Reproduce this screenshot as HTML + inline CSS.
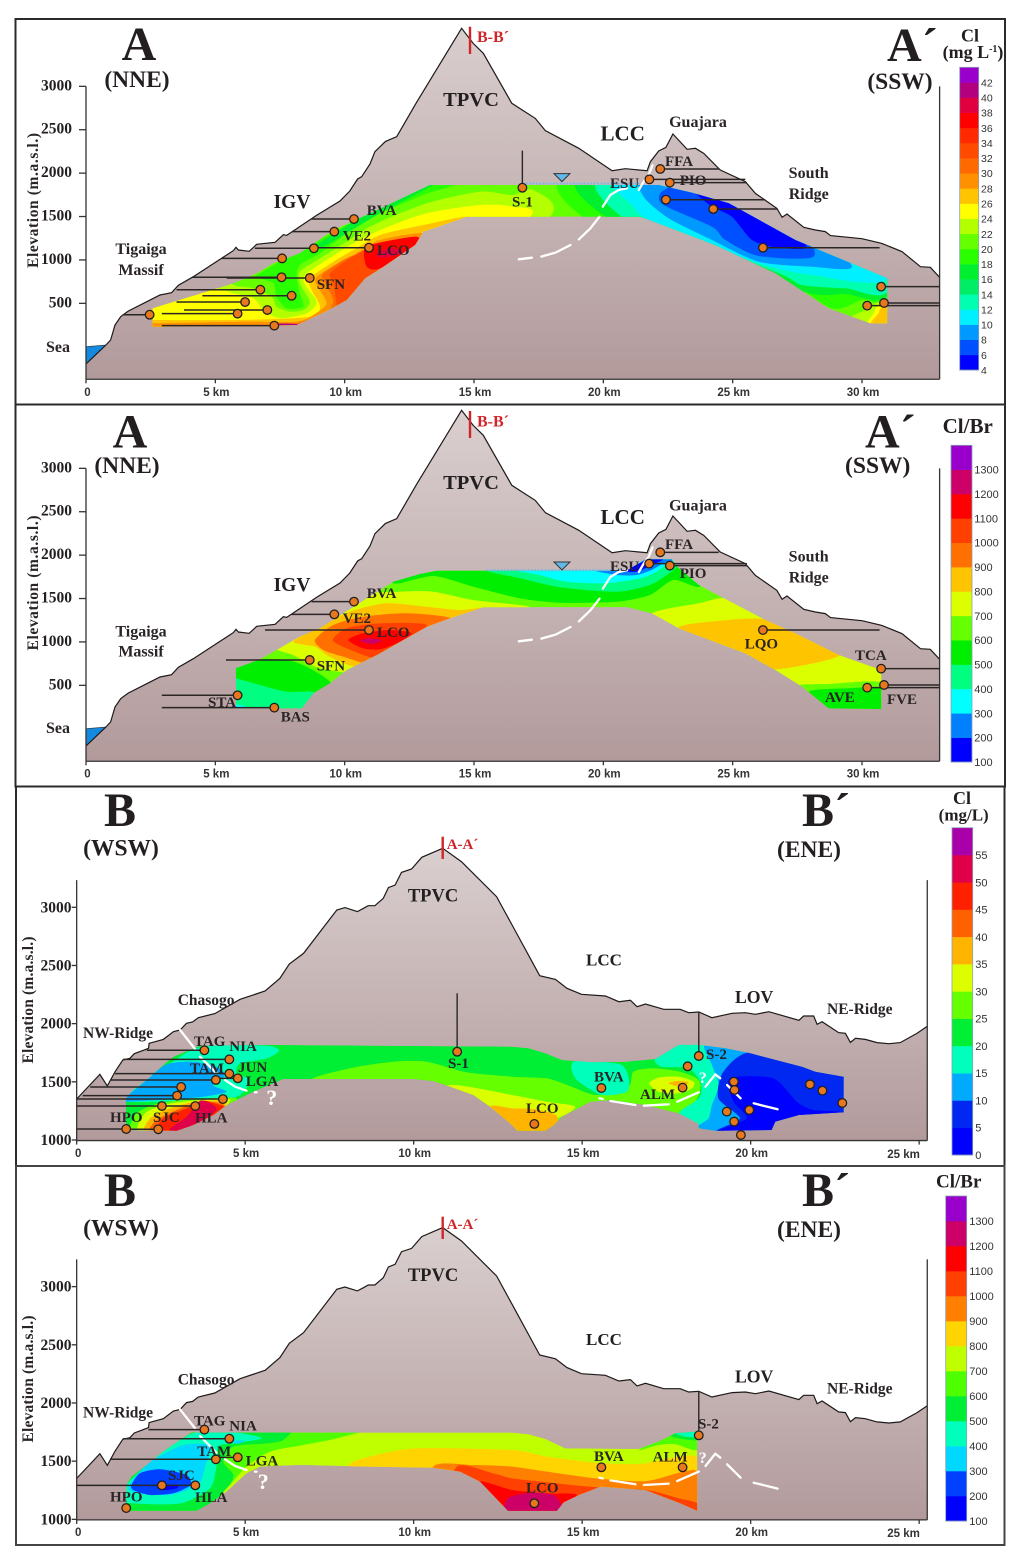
<!DOCTYPE html>
<html lang="en">
<head>
<meta charset="utf-8">
<title>Hydrogeochemical cross-sections A-A′ and B-B′</title>
<style>
html,body{margin:0;padding:0;background:#fff;width:1024px;height:1557px;overflow:hidden}
svg{display:block}
text{font-family:"Liberation Serif",serif;font-weight:700;fill:#231f20}
.big{font-size:48px}
.dir{font-size:23.5px}
.st{font-size:15px;fill:#2a2426}
.nm{font-size:16px;fill:#2a2426}
.nb{font-size:15.5px;fill:#2a2426}
.red{fill:#d0262a;font-size:16px}
.wq{fill:#fff;font-size:22px}
.leg{font-size:18px}
.yt{font-size:15.5px;fill:#2a2426}
</style>
</head>
<body>
<svg id="chart" xmlns="http://www.w3.org/2000/svg" width="1024" height="1557" viewBox="0 0 1024 1557">
  <defs>
    <linearGradient id="rockA1" gradientUnits="userSpaceOnUse" x1="0" y1="20" x2="0" y2="379"><stop offset="0" stop-color="#dacfcf"/><stop offset="1" stop-color="#b29a9b"/></linearGradient>
    <linearGradient id="rockA2" gradientUnits="userSpaceOnUse" x1="0" y1="411" x2="0" y2="761"><stop offset="0" stop-color="#dacfcf"/><stop offset="1" stop-color="#b29a9b"/></linearGradient>
    <linearGradient id="rockB1" gradientUnits="userSpaceOnUse" x1="0" y1="847" x2="0" y2="1141"><stop offset="0" stop-color="#dacfcf"/><stop offset="1" stop-color="#b29a9b"/></linearGradient>
    <linearGradient id="rockB2" gradientUnits="userSpaceOnUse" x1="0" y1="1227" x2="0" y2="1520"><stop offset="0" stop-color="#dacfcf"/><stop offset="1" stop-color="#b29a9b"/></linearGradient>
  </defs>

  <g>
    <rect x="15.5" y="19" width="989.5" height="385.5" fill="#fff" stroke="#2b2b2b" stroke-width="2"/>
    <g id="marks-a1"></g>
    <text class="big" x="139" y="60" text-anchor="middle">A</text>
    <text class="dir" x="137" y="87" text-anchor="middle">(NNE)</text>
    <text class="big" x="887" y="61" >A´</text>
    <text class="dir" x="900" y="89" text-anchor="middle">(SSW)</text>
    <text class="red" x="477" y="42">B-B´</text>
    <text class="yt" transform="translate(38 200.5) rotate(-90)" text-anchor="middle" textLength="135">Elevation (m.a.s.l.)</text>
    <text x="471" y="106" text-anchor="middle" font-size="20.5">TPVC</text>
    <text x="622.7" y="140.5" text-anchor="middle" font-size="21">LCC</text>
    <text class="nm" x="698" y="127" text-anchor="middle">Guajara</text>
    <text class="nm" x="808.7" y="178" text-anchor="middle">South</text>
    <text class="nm" x="808.7" y="199" text-anchor="middle">Ridge</text>
    <text x="292" y="208" text-anchor="middle" font-size="19.5">IGV</text>
    <text class="nm" x="141" y="254" text-anchor="middle">Tigaiga</text>
    <text class="nm" x="141" y="275" text-anchor="middle">Massif</text>
    <text class="nm" x="58" y="352" text-anchor="middle">Sea</text>
    <text class="st" x="366.7" y="215">BVA</text>
    <text class="st" x="342.7" y="240.7">VE2</text>
    <text class="st" x="377" y="255">LCO</text>
    <text class="st" x="316.7" y="289">SFN</text>
    <text class="st" x="512" y="206.7">S-1</text>
    <text class="st" x="665" y="166">FFA</text>
    <text class="st" x="610" y="188">ESU</text>
    <text class="st" x="679.7" y="185">PIO</text>
    <text class="leg" x="970" y="41.5" text-anchor="middle">Cl</text>
    <text class="leg" x="973" y="58" text-anchor="middle">(mg L<tspan font-size="10" dy="-6">-1</tspan><tspan dy="6">)</tspan></text>
  </g>

  <g>
    <rect x="15.5" y="404.5" width="989.5" height="382" fill="#fff" stroke="#2b2b2b" stroke-width="2"/>
    <g id="marks-a2"></g>
    <text class="big" x="130" y="447.5" text-anchor="middle">A</text>
    <text class="dir" x="127" y="473" text-anchor="middle">(NNE)</text>
    <text class="big" x="865" y="447.5">A´</text>
    <text class="dir" x="877.7" y="473" text-anchor="middle">(SSW)</text>
    <text class="red" x="477" y="426.7">B-B´</text>
    <text class="yt" transform="translate(38 583) rotate(-90)" text-anchor="middle" textLength="135">Elevation (m.a.s.l.)</text>
    <text x="471" y="489" text-anchor="middle" font-size="20.5">TPVC</text>
    <text x="622.7" y="524" text-anchor="middle" font-size="21">LCC</text>
    <text class="nm" x="698" y="510.7" text-anchor="middle">Guajara</text>
    <text class="nm" x="808.7" y="561.7" text-anchor="middle">South</text>
    <text class="nm" x="808.7" y="582.7" text-anchor="middle">Ridge</text>
    <text x="292" y="591" text-anchor="middle" font-size="19.5">IGV</text>
    <text class="nm" x="141" y="636.7" text-anchor="middle">Tigaiga</text>
    <text class="nm" x="141" y="656.7" text-anchor="middle">Massif</text>
    <text class="nm" x="58" y="733" text-anchor="middle">Sea</text>
    <text class="st" x="366.7" y="598">BVA</text>
    <text class="st" x="342.7" y="623">VE2</text>
    <text class="st" x="377" y="637">LCO</text>
    <text class="st" x="316.7" y="670.7">SFN</text>
    <text class="st" x="208" y="707">STA</text>
    <text class="st" x="280.7" y="721.7">BAS</text>
    <text class="st" x="665" y="549">FFA</text>
    <text class="st" x="610" y="571">ESU</text>
    <text class="st" x="679.7" y="578">PIO</text>
    <text class="st" x="744.7" y="648.3">LQO</text>
    <text class="st" x="855" y="660">TCA</text>
    <text class="st" x="825" y="702">AVE</text>
    <text class="st" x="887" y="704">FVE</text>
    <text x="967.7" y="433" text-anchor="middle" font-size="21">Cl/Br</text>
  </g>

  <g>
    <rect x="16" y="786.5" width="988.5" height="379.5" fill="#fff" stroke="#2b2b2b" stroke-width="2"/>
    <g id="marks-b1"></g>
    <text class="big" x="120" y="826" text-anchor="middle">B</text>
    <text class="dir" x="121" y="855.5" text-anchor="middle">(WSW)</text>
    <text class="big" x="802" y="826">B´</text>
    <text class="dir" x="809" y="857" text-anchor="middle">(ENE)</text>
    <text class="red" x="446.7" y="849" style="font-size:15px">A-A´</text>
    <text class="yt" transform="translate(33 1000) rotate(-90)" text-anchor="middle" textLength="127">Elevation (m.a.s.l.)</text>
    <text x="433" y="901.7" text-anchor="middle" font-size="18.5">TPVC</text>
    <text x="604" y="965.7" text-anchor="middle" font-size="17">LCC</text>
    <text x="735" y="1003" font-size="17.7">LOV</text>
    <text class="nb" x="827" y="1014">NE-Ridge</text>
    <text class="nb" x="177.7" y="1005">Chasogo</text>
    <text class="nb" x="83" y="1038">NW-Ridge</text>
    <text class="st" x="194" y="1046">TAG</text>
    <text class="st" x="229.3" y="1051">NIA</text>
    <text class="st" x="190" y="1073">TAM</text>
    <text class="st" x="238" y="1072">JUN</text>
    <text class="st" x="245.7" y="1086">LGA</text>
    <text class="wq" x="271.7" y="1105" text-anchor="middle">?</text>
    <text class="st" x="110" y="1122">HPO</text>
    <text class="st" x="153" y="1122">SJC</text>
    <text class="st" x="195" y="1122.7">HLA</text>
    <text class="st" x="448" y="1068">S-1</text>
    <text class="st" x="526" y="1113">LCO</text>
    <text class="st" x="594" y="1081.7">BVA</text>
    <text class="st" x="640" y="1099">ALM</text>
    <text class="st" x="706" y="1059">S-2</text>
    <text class="wq" x="702.7" y="1083" text-anchor="middle" style="font-size:16px">?</text>
    <text class="leg" x="962" y="804" text-anchor="middle">Cl</text>
    <text class="leg" x="963.7" y="820.7" text-anchor="middle" style="font-size:17px">(mg/L)</text>
  </g>

  <g>
    <rect x="16" y="1166" width="988.5" height="379" fill="#fff" stroke="#444" stroke-width="2"/>
    <g id="marks-b2"></g>
    <text class="big" x="120" y="1206" text-anchor="middle">B</text>
    <text class="dir" x="121" y="1235.5" text-anchor="middle">(WSW)</text>
    <text class="big" x="802" y="1206">B´</text>
    <text class="dir" x="809" y="1237" text-anchor="middle">(ENE)</text>
    <text class="red" x="446.7" y="1229" style="font-size:15px">A-A´</text>
    <text class="yt" transform="translate(33 1379) rotate(-90)" text-anchor="middle" textLength="127">Elevation (m.a.s.l.)</text>
    <text x="433" y="1281" text-anchor="middle" font-size="18.5">TPVC</text>
    <text x="604" y="1345" text-anchor="middle" font-size="17">LCC</text>
    <text x="735" y="1382.7" font-size="17.7">LOV</text>
    <text class="nb" x="827" y="1393.7">NE-Ridge</text>
    <text class="nb" x="177.7" y="1384.3">Chasogo</text>
    <text class="nb" x="83" y="1417.7">NW-Ridge</text>
    <text class="st" x="194" y="1425.3">TAG</text>
    <text class="st" x="229.3" y="1430.3">NIA</text>
    <text class="st" x="197.3" y="1456">TAM</text>
    <text class="st" x="245.7" y="1465.3">LGA</text>
    <text class="wq" x="263.3" y="1489" text-anchor="middle">?</text>
    <text class="st" x="168" y="1480">SJC</text>
    <text class="st" x="110" y="1501.7">HPO</text>
    <text class="st" x="195" y="1502">HLA</text>
    <text class="st" x="526" y="1492.7">LCO</text>
    <text class="st" x="594" y="1461">BVA</text>
    <text class="st" x="652.7" y="1461.7">ALM</text>
    <text class="st" x="698" y="1428.3">S-2</text>
    <text class="wq" x="702.7" y="1463" text-anchor="middle" style="font-size:16px">?</text>
    <text x="958.7" y="1187.7" text-anchor="middle" font-size="19">Cl/Br</text>
  </g>
</svg>

<script>
// ---- Axis tick values ----
const elevTicksA = [500,1000,1500,2000,2500,3000];
const elevTicksB = [1000,1500,2000,2500,3000];
const kmTicksA = [0,5,10,15,20,25,30];
const kmTicksB = [0,5,10,15,20,25];

// ---- Legend tick labels ----
const legendTicksA1 = [42,40,38,36,34,32,30,28,26,24,22,20,18,16,14,12,10,8,6,4];
const legendTicksA2 = [1300,1200,1100,1000,900,800,700,600,500,400,300,200,100];
const legendTicksB1 = [55,50,45,40,35,30,25,20,15,10,5,0];
const legendTicksB2 = [1300,1200,1100,1000,900,800,700,600,500,400,300,200,100];

// ---- Ground surface profiles [km, m a.s.l.] ----
const terrainA = [[0,-199],[.77,20],[.95,78],[1.12,250],[1.34,346],[1.64,412],[2.35,519],[2.86,596],[3.31,623],[3.57,707],[4.15,807],[5.7,1107],[5.8,1145],[5.89,1114],[6.31,1099],[6.6,1180],[7.31,1203],[7.63,1291],[7.76,1283],[8.92,1514],[9.82,1679],[10.2,1794],[10.5,1932],[10.66,1959],[10.98,2105],[11.17,2247],[11.58,2366],[12.01,2420],[12.78,2816],[14.52,3668],[14.97,3495],[15.36,3380],[16.46,2804],[17.37,2631],[17.76,2489],[19.05,2286],[20.34,2028],[20.85,2051],[21.69,2028],[21.82,2132],[22.14,2255],[22.42,2297],[22.69,2451],[23.24,2274],[23.56,2286],[23.88,2228],[24.52,2036],[25.49,1902],[25.88,1767],[26.71,1594],[26.91,1491],[27.1,1529],[27.75,1376],[28.2,1345],[28.58,1326],[28.78,1280],[30,1245],[30.77,1191],[31.55,1095],[32.26,922],[32.64,915],[33,800]];
const terrainB = [[0,1352],[.69,1564],[.91,1464],[1.14,1587],[1.37,1688],[1.58,1702],[1.71,1742],[1.98,1771],[2.13,1788],[2.15,1831],[2.57,1865],[2.87,1931],[3.07,1945],[3.26,2003],[3.44,2014],[3.61,2051],[4.1,2086],[4.85,2209],[5.59,2281],[6.03,2390],[6.31,2513],[6.73,2604],[7.72,2977],[7.96,2997],[8.33,2963],[8.51,2991],[8.65,3014],[8.85,3014],[9.1,3077],[9.25,3169],[9.45,3192],[9.64,3300],[9.94,3329],[10.24,3430],[10.86,3507],[11.42,3392],[12.46,3091],[12.92,2848],[13.74,2412],[14.21,2380],[14.55,2304],[14.98,2252],[15.69,2238],[16.09,2189],[16.43,2201],[16.63,2146],[16.88,2169],[17.42,2123],[17.91,2123],[18.16,2094],[18.46,2100],[18.85,2051],[19.45,2089],[19.84,2094],[20.14,2080],[20.54,2103],[21.43,2029],[21.57,2066],[21.87,2066],[21.97,1994],[22.12,2017],[22.61,1923],[22.81,1917],[22.96,1839],[23.11,1874],[23.4,1865],[23.75,1837],[24.1,1828],[24.44,1837],[24.94,1917],[25.24,1977]];
const seaA = [[0,0],[.77,20],[0,-199]];

// ---- Interpreted fault segments [km, m a.s.l.] ----
const faultA = [
  [[16.73,1007],[17.24,1026]],
  [[17.6,1038],[18.15,1084],[18.73,1172]],
  [[19.05,1237],[19.5,1364],[19.85,1498]],
  [[19.98,1614],[20.27,1748],[20.59,1806],[20.92,1825]],
  [[21.37,1806],[21.56,1902],[21.75,1978],[21.9,2090]]
];
const faultB = [
  [[3.07,1945],[3.51,1782]],
  [[3.66,1716],[4.15,1573]],
  [[4.4,1516],[4.7,1458],[5.04,1424]],
  [[5.29,1410],[5.34,1410]],
  [[15.51,1358],[15.61,1352]],
  [[15.84,1335],[16.58,1301]],
  [[16.83,1295],[17.57,1307]],
  [[17.82,1329],[18.46,1410]],
  [[18.66,1458],[18.95,1564],[19.1,1530]],
  [[19.3,1473],[19.7,1358]],
  [[20.09,1315],[20.8,1264]]
];

// ---- Springs and galleries [km, m a.s.l., km where the gallery line ends] ----
const stationsA1 = [[2.46,369,1.42],[5.86,381,2.93],[6.15,515,3.5],[7.01,423,3.79],[7.28,243,2.93],[6.74,657,3.5],[7.95,588,4.5],[7.56,800,4.12],[8.65,792,5.44],[7.58,1018,5.24],[8.81,1134,6.53],[10.94,1141,8.81],[9.6,1326,7.95],[10.36,1471,8.72],[21.78,1928,25.49],[22.2,2048,24.46],[22.57,1890,25.55],[22.42,1694,26.26],[24.25,1587,26.71],[26.17,1141,30.68],[30.74,692,33],[30.85,504,33],[30.2,473,33]];
const stationsA2 = [[5.86,385,2.93],[7.28,243,2.93],[8.65,792,5.41],[10.94,1137,6.92],[9.6,1318,7.95],[10.36,1464,8.72],[21.77,1902,25.55],[22.2,2032,24.46],[22.57,1879,25.55],[26.17,1137,30.68],[30.74,692,33],[30.85,504,33],[30.2,473,33]];
const stationsB1 = [[3.79,1771,2.08],[4.53,1693,1.38],[4.53,1570,1.14],[4.78,1530,4.13],[4.13,1516,.99],[3.1,1456,.4],[2.98,1381,.18],[4.34,1352,0],[2.53,1292,0],[3.52,1292,2.53],[1.47,1095,0],[2.42,1092,1.47],[18.13,1633,null],[15.57,1447,null],[17.98,1450,null],[19.5,1501,null],[19.52,1430,null],[19.29,1244,null],[19.96,1258,null],[19.51,1158,null],[19.71,1043,null],[21.76,1478,null],[22.13,1424,null],[22.72,1318,null],[13.58,1138,null]];
const stationsB2 = [[3.79,1771,2.13],[4.53,1693,1.38],[4.13,1516,.99],[4.78,1533,4.13],[2.53,1292,0],[3.52,1292,2.53],[1.47,1097,null],[13.58,1138,null],[15.57,1447,null],[17.98,1447,null]];

// ---- Boreholes [km, m a.s.l. of sample, m a.s.l. of casing top] ----
const wellsA1 = [[16.87,1832,2259]];
const wellsA2 = [];
const wellsB1 = [[11.29,1759,2261],[18.46,1722,2094]];
const wellsB2 = [[18.46,1722,2100]];

// ---- Water table [km start, km end, m a.s.l., marker km, marker m a.s.l.] ----
const waterTableA1 = [17,21.5,1879,18.4,1902];
const waterTableA2 = [15.5,20.8,1825,18.4,1829];

// ---- Sampled aquifer extents [km, m a.s.l.] ----
const aquiferA1 = [[2.58,231],[2.58,442],[5.7,730],[6.6,846],[7.24,961],[8.27,1076],[9.56,1345],[10.85,1518],[13.3,1863],[21.43,1863],[22.14,1863],[23.43,1775],[24.85,1652],[27.42,1230],[30.97,788],[30.97,270],[30.32,270],[28.71,442],[26.65,846],[24.33,1172],[21.62,1479],[21.37,1498],[14.72,1498],[13.04,1326],[12.72,1172],[11.49,922],[10.79,788],[10.08,538],[9.24,404],[8.14,250]];
const aquiferA2 = [[5.8,696],[6.66,792],[7.37,907],[8.27,1061],[9.05,1157],[10.85,1500],[11.88,1694],[12.91,1783],[13.56,1821],[20.9,1821],[21.62,1951],[22.65,1951],[22.85,1867],[23.69,1656],[24.72,1495],[26.26,1253],[27.55,1080],[29.1,849],[30.74,677],[30.74,227],[28.71,235],[27.68,485],[26.65,677],[25.49,869],[22.91,1157],[21.88,1329],[20.92,1399],[15.36,1399],[14.07,1272],[13.17,1176],[11.24,849],[10.08,677],[9.43,523],[8.79,408],[8.34,235],[5.8,235]];
const aquiferB1 = [[1.46,1086],[1.46,1358],[1.68,1430],[2.08,1516],[2.57,1645],[2.87,1716],[3.66,1811],[5.64,1817],[12.92,1802],[13.41,1788],[13.91,1745],[14.4,1688],[15.29,1668],[16.28,1673],[17.17,1696],[17.87,1817],[18.46,1817],[19.25,1788],[19.99,1745],[21.52,1630],[21.92,1587],[22.76,1544],[22.76,1238],[21.43,1215],[20.73,1158],[20.62,1086],[18.95,1080],[18.46,1100],[18.44,1143],[17.87,1229],[16.88,1301],[15.89,1344],[15.24,1329],[14.4,1201],[14.16,1129],[13.91,1080],[13.07,1080],[12.92,1129],[12.27,1286],[11.77,1387],[11.08,1458],[10.58,1507],[9.99,1524],[6.13,1524],[5.84,1487],[5.24,1415],[4.45,1301],[4.06,1215],[3.46,1129],[2.97,1080]];
const aquiferB2 = [[1.46,1074],[1.48,1295],[1.63,1367],[2.08,1467],[2.57,1582],[3.07,1682],[3.41,1745],[12.92,1745],[13.41,1731],[13.91,1690],[14.5,1610],[16.68,1605],[17.27,1668],[17.77,1739],[18.41,1754],[18.41,1074],[17.91,1138],[16.88,1252],[15.54,1281],[14.9,1209],[14.45,1146],[14.25,1074],[12.8,1074],[11.97,1324],[11.38,1410],[10.58,1444],[8.6,1453],[6.63,1467],[5.44,1453],[5.04,1395],[4.45,1238],[3.96,1138],[3.56,1074]];

// ---- Isoline fields: [value in band, [[km, m a.s.l.], ...]] painted in order ----
const backgroundValueA1 = 21;
const contoursA1 = [
[19,[[6.6,826],[8.79,1191],[13.17,1882],[14.46,1882],[13.04,1748],[11.11,1498],[10.08,1306],[9.05,1076],[8.27,942],[8.14,807],[8.27,615],[8.4,462],[7.76,442],[7.37,577],[7.24,730],[6.73,788]]],
[17,[[8.92,1172],[11.11,1575],[13.17,1863],[13.43,1863],[11.37,1537],[9.3,1172]]],
[23,[[5.7,711],[6.47,673],[7.18,577],[7.37,462],[7.89,404],[8.4,423],[8.66,519],[8.27,730],[8.27,865],[9.05,1018],[10.08,1210],[11.11,1402],[13.17,1652],[15.23,1786],[16.47,1748],[17.29,1806],[17.81,1460],[10.85,193],[2.47,193],[2.47,500],[5.2,850]]],
[25,[[2.47,500],[4.66,680],[5.7,615],[6.47,558],[6.86,423],[7.5,327],[8.53,385],[8.92,519],[8.47,711],[8.47,826],[9.3,999],[10.34,1191],[11.37,1345],[13.17,1537],[15.23,1633],[16.47,1614],[17.04,1460],[10.85,193],[2.47,193]]],
[27,[[2.6,308],[5.95,308],[8.66,346],[9.05,462],[8.72,654],[8.66,788],[9.56,980],[10.34,1114],[11.37,1287],[13.04,1402],[14.78,1498],[14.5,1300],[10.85,193],[2.47,193],[2.47,308]]],
[29,[[2.6,270],[6.21,289],[8.14,289],[8.79,366],[9.3,500],[8.92,711],[8.92,807],[9.82,980],[10.46,1076],[11.37,1230],[13.04,1306],[12.9,1100],[10.85,193],[2.47,193],[2.47,270]]],
[31,[[6.99,239],[8.14,270],[9.3,404],[9.56,538],[9.18,769],[9.18,845],[10.08,1018],[10.6,1076],[11.49,1172],[12.78,1249],[12.6,1000],[10.85,193]]],
[33,[[9.69,462],[9.56,730],[9.43,845],[10.2,1018],[10.98,1134],[12.78,1249],[12.5,1000],[10.85,193],[9.5,300]]],
[37,[[10.85,922],[10.75,1114],[11.11,1184],[12.78,1268],[12.78,1153],[11.37,903]]],
[39,[[11.24,1076],[11.75,1134],[12.27,1095],[11.88,1045],[11.37,1030]]],
[41,[[7.24,262],[8.14,262],[8.27,212],[7.24,193]]],
[19,[[18.73,1959],[19.56,1422],[21.62,1422],[26.78,807],[28.84,442],[30,538],[31.03,596],[31.03,1959]]],
[17,[[19.37,1959],[20.27,1460],[21.88,1422],[27.55,654],[29.36,607],[31.03,615],[31.03,1959]]],
[13,[[20.14,1959],[20.85,1460],[21.88,1422],[26.78,846],[27.68,711],[29.36,673],[31.03,661],[31.03,1959]]],
[11,[[20.85,1959],[21.17,1614],[22.01,1422],[26,961],[28.07,826],[31.03,796],[31.03,1959]]],
[9,[[21.5,1959],[21.56,1729],[22.53,1479],[24.2,1230],[26,980],[28.07,922],[29.61,922],[28.07,1400],[24.2,2100]]],
[7,[[22.78,1882],[22.2,1767],[22.33,1633],[24.2,1383],[24.72,1230],[26,1045],[28.13,1038],[27.55,1400],[25.49,1800],[23.17,2000]]],
[5,[[23.49,1800],[24.2,1800],[24.97,1720],[25.75,1560],[27.49,1300],[27.81,1134],[26.65,1145],[25.75,1230],[24.97,1498],[24.2,1614]]],
[23,[[29.61,327],[30.13,423],[30.52,500],[31.03,538],[31.03,231]]],
[25,[[30.19,250],[30.45,385],[30.58,462],[31.03,500],[31.03,231]]],
[27,[[30.32,250],[30.64,385],[30.71,442],[31.03,469],[31.03,231]]]
];

const backgroundValueA2 = 650;
const contoursA2 = [
[550,[[11.88,1675],[13.43,1760],[14.97,1637],[16.78,1502],[18.32,1452],[20.52,1464],[21.8,1541],[22.71,1713],[23.74,1637],[23.74,1982],[11.88,1982]]],
[450,[[15.1,1900],[15.49,1817],[16.78,1733],[18.32,1630],[20.52,1579],[21.8,1656],[22.45,1771],[22.84,1867],[22.84,1982],[15.1,1982]]],
[350,[[16,1900],[16.58,1825],[17.55,1770],[18.58,1694],[20.13,1675],[21.42,1733],[22.06,1809],[22.45,1905],[22.45,1982],[16,1982]]],
[250,[[19.61,1829],[20.52,1771],[21.29,1771],[21.87,1829],[22.32,1905],[22.71,1951],[21.55,1951],[20.52,1867]]],
[150,[[20.64,1821],[21.29,1809],[21.87,1886],[22.32,1951],[21.8,1951],[21.16,1875]]],
[550,[[5.7,715],[6.6,800],[7.76,792],[8.53,715],[9.43,542],[9.56,331],[5.7,254]]],
[450,[[5.7,600],[5.8,581],[6.73,504],[7.76,427],[8.92,408],[9.05,101],[5.7,101]]],
[350,[[5.8,273],[5.95,273],[6.34,235],[5.8,235]]],
[750,[[7.31,926],[8.14,1042],[9.05,1214],[10.85,1541],[12.14,1579],[13.43,1579],[14.97,1483],[17.16,1399],[14.97,1291],[11.62,600],[10.33,677],[9.95,650],[8.92,708],[8,850]]],
[850,[[8.02,1003],[9.05,1176],[10.2,1349],[11.62,1445],[13.17,1406],[14.46,1368],[15.3,1387],[14.07,1214],[12.01,830],[10.46,723],[9.82,773],[9.3,850],[8.85,946]]],
[950,[[8.85,1022],[9.56,1195],[10.72,1291],[12.4,1330],[14.1,1272],[12.91,1118],[11.24,754],[9.95,830],[9.18,907]]],
[1050,[[9.54,1022],[10.08,1157],[11.37,1214],[13.17,1195],[12.14,946],[11.24,811],[10.08,926]]],
[1150,[[10.14,1022],[10.72,1099],[11.75,1138],[12.59,1099],[12.01,984],[11.37,915],[10.72,926]]],
[1250,[[10.59,1015],[10.98,1042],[11.43,1015],[11.04,976]]],
[750,[[21.88,1329],[23.69,1445],[24.85,1502],[26.39,1253],[29.36,830],[30.77,715],[30.77,216],[28.07,331],[22.91,1137]]],
[850,[[22.91,1157],[24.85,1253],[26.39,1260],[27.55,1099],[29.16,849],[26.65,684],[25.49,830]]],
[650,[[27.42,485],[28.71,515],[30.77,531],[30.77,216],[28.58,216]]],
[550,[[27.94,427],[29.36,465],[30.77,465],[30.77,216],[28.58,216]]]
];

const backgroundValueB1 = 22.5;
const contoursB1 = [
[17.5,[[2.77,1658],[3.36,1767],[3.96,1810],[5.64,1810],[6.01,1767],[5.64,1701],[4.85,1658],[4.75,1573],[5.14,1515],[4.85,1386],[4.15,1338],[3.17,1338],[1.38,1329],[1.38,1429]]],
[12.5,[[1.43,1358],[2.08,1515],[2.67,1650],[3.46,1673],[4.15,1630],[4.4,1558],[4.05,1472],[4.45,1415],[3.76,1372],[2.77,1349],[1.43,1329]]],
[27.5,[[1.63,1071],[1.78,1229],[2.37,1309],[3.17,1343],[4.75,1358],[4.05,1200],[3.07,1071]]],
[32.5,[[1.83,1071],[2.03,1229],[2.57,1300],[3.36,1335],[4.55,1349],[4.05,1200],[3.07,1071]]],
[37.5,[[2.03,1071],[2.18,1186],[2.67,1263],[3.46,1326],[4.45,1335],[4.05,1200],[3.07,1071]]],
[42.5,[[2.18,1071],[2.37,1171],[3.07,1272],[3.66,1326],[4.35,1309],[4.05,1194],[3.07,1071]]],
[47.5,[[2.39,1071],[2.57,1186],[3.26,1272],[3.76,1338],[4.25,1300],[4.45,1280],[4.05,1186],[3.07,1071]]],
[52.5,[[2.75,1091],[3.26,1200],[3.66,1338],[4.05,1300],[4.15,1257],[3.76,1171],[3.07,1085]]],
[27.5,[[7.02,1516],[8.11,1616],[9.4,1673],[10.39,1673],[11.57,1582],[12.92,1544],[13.95,1530],[14.69,1458],[15.43,1387],[16.37,1458],[16.52,1587],[17.11,1616],[17.9,1587],[18.46,1516],[18.46,1387],[17.9,1229],[15.53,1287],[13.55,900],[10.58,1186],[9.99,1501]]],
[32.5,[[11.08,1473],[12.92,1387],[13.95,1329],[14.79,1287],[14.24,1186],[12.56,1072],[10.58,1329]]],
[32.5,[[16.99,1487],[17.27,1536],[17.86,1544],[18.31,1501],[18.26,1444],[17.86,1401],[17.27,1415]]],
[37.5,[[17.57,1493],[17.86,1507],[18.16,1496],[17.96,1458],[17.67,1473]]],
[37.5,[[12.27,1286],[12.92,1272],[13.55,1266],[14.24,1209],[14.14,1043],[12.56,1043]]],
[17.5,[[14.7,1587],[14.75,1673],[15.49,1673],[16.18,1645],[16.38,1530],[16.33,1415],[15.59,1387],[14.9,1501]]],
[17.5,[[17.17,1696],[17.87,1817],[18.75,1817],[18.89,1645],[19.19,1473],[18.89,1301],[18.79,1186],[18.46,1129],[17.87,1229],[18.46,1358],[18.53,1487],[18.16,1616],[17.37,1630]]],
[12.5,[[18.66,1825],[20.08,1759],[19.19,1587],[19.04,1358],[19.68,1186],[18.95,1072],[18.44,1115],[18.75,1186],[18.85,1301],[19.05,1473],[18.85,1645]]],
[7.5,[[20.08,1759],[22.85,1616],[22.85,1215],[20.67,1057],[18.99,1072],[19.68,1186],[19.04,1358],[19.19,1587]]],
[2.5,[[19.39,1530],[20.67,1530],[21.37,1329],[21.86,1258],[22.85,1229],[22.85,1043],[18.99,1043],[19.88,1186],[19.49,1329]]]
];

const backgroundValueB2 = 750;
const contoursB2 = [
[650,[[3.36,1797],[8.56,1797],[7.71,1696],[6.73,1639],[5.74,1582],[5.04,1453],[4.45,1267],[3.56,1052],[1.38,1052],[1.38,1367]]],
[550,[[3.36,1797],[6.25,1797],[6.13,1682],[5.64,1653],[4.65,1625],[4.35,1496],[4.65,1381],[4.45,1267],[3.56,1052],[1.38,1052],[1.38,1367]]],
[450,[[2.47,1568],[3.17,1696],[3.56,1745],[4.75,1745],[5.49,1696],[4.65,1653],[4.2,1625],[4.15,1453],[3.96,1267],[3.17,1143],[2.27,1129],[1.38,1152],[1.38,1267]]],
[350,[[1.78,1381],[2.27,1510],[3.17,1639],[3.96,1631],[3.81,1453],[3.61,1295],[2.77,1209],[1.78,1224],[1.53,1267]]],
[350,[[4.65,1676],[5,1676],[4.75,1648]]],
[250,[[1.63,1295],[1.88,1396],[2.47,1430],[3.26,1381],[3.38,1295],[2.87,1224],[2.18,1209],[1.68,1252]]],
[150,[[2.52,1287],[2.97,1298],[2.99,1267],[2.57,1250]]],
[850,[[8.01,1440],[8.7,1539],[10.09,1610],[12.92,1596],[13.95,1539],[15.43,1487],[16.72,1476],[18.41,1533],[18.41,1037],[8.01,1037]]],
[950,[[10.58,1453],[11.77,1467],[12.92,1453],[13.95,1410],[15.43,1352],[16.91,1329],[18.41,1415],[18.41,1037],[10.58,1037]]],
[1050,[[11.28,1453],[12.36,1395],[12.92,1352],[13.95,1318],[15.19,1281],[16.91,1252],[17.86,1181],[18.41,1138],[18.41,1037],[11.28,1037]]],
[1150,[[11.87,1324],[12.92,1252],[13.95,1223],[14.84,1209],[14.14,1066],[11.87,1066]]],
[1250,[[12.81,1186],[13.55,1229],[14.2,1201],[14.34,1066],[12.81,1066]]],
[650,[[16.68,1596],[17.27,1639],[17.76,1645],[18.41,1596],[18.41,1782],[17.76,1768]]],
[550,[[17.57,1725],[17.86,1696],[18.41,1682],[18.41,1782],[17.76,1768]]],
[450,[[17.76,1745],[18.06,1711],[18.41,1711],[18.41,1768]]]
];

// ---- Colour ramps, lowest band first ----
const paletteA1 = ['#0000ff','#0050ff','#0099ff','#00f0ff','#00ffb0','#00ee66','#00f030','#2aff00','#66ff00','#b4ff00','#ffff00','#ffc400','#ff9000','#ff6a00','#ff4a00','#ff2a00','#ff0000','#e00040','#b3007f','#9900cc'];
const paletteA2 = ['#0000ff','#0080ff','#00ffff','#00ff80','#00ee00','#66ff00','#dcff00','#ffc400','#ff7000','#ff4000','#ff0000','#cc0066','#9900cc'];
const paletteB1 = ['#0000ff','#0028f0','#00aaff','#00ffbb','#00ee33','#66ff00','#dcff00','#ffb400','#ff6000','#ff2000','#e0004a','#aa00aa'];
const paletteB2 = ['#0000ff','#0040ff','#00d8ff','#00ffbb','#00ee33','#4dff00','#c0ff00','#ffd400','#ff8000','#ff4000','#ff0000','#cc0066','#9900cc'];

const SVGNS = 'http://www.w3.org/2000/svg';

function make(parent, tag, attrs, name) {
  const el = document.createElementNS(SVGNS, tag);
  for (const k in attrs) el.setAttribute(k, attrs[k]);
  
  
  parent.appendChild(el);
  return el;
}

function ptsAttr(points, xs, ys) {
  return points.map(p => xs(p[0]).toFixed(1) + ',' + ys(p[1]).toFixed(1)).join(' ');
}

function smoothPath(points, xs, ys) {
  const p = points.map(q => [xs(q[0]), ys(q[1])]);
  const n = p.length;
  let d = 'M' + p[0][0].toFixed(1) + ' ' + p[0][1].toFixed(1);
  for (let i = 0; i < n; i++) {
    const p0 = p[(i - 1 + n) % n], p1 = p[i], p2 = p[(i + 1) % n], p3 = p[(i + 2) % n];
    const c1x = p1[0] + (p2[0] - p0[0]) / 8, c1y = p1[1] + (p2[1] - p0[1]) / 8;
    const c2x = p2[0] - (p3[0] - p1[0]) / 8, c2y = p2[1] - (p3[1] - p1[1]) / 8;
    d += 'C' + c1x.toFixed(1) + ' ' + c1y.toFixed(1) + ' ' + c2x.toFixed(1) + ' ' + c2y.toFixed(1) + ' ' + p2[0].toFixed(1) + ' ' + p2[1].toFixed(1);
  }
  return d + 'Z';
}

function drawPanel(cfg) {
  const g = document.getElementById(cfg.gid);
  const xs = km => cfg.x0 + km * cfg.kx;
  const ys = m => cfg.yRef - (m - cfg.elevRef) * cfg.ky;
  const bandH = (cfg.legend.bottom - cfg.legend.top) / cfg.palette.length;
  const legendY = v => cfg.legend.bottom - (v - cfg.legend.min) / cfg.legend.step * bandH;
  const colorOf = v => cfg.palette[Math.max(0, Math.min(cfg.palette.length - 1, Math.floor((v - cfg.legend.min) / cfg.legend.step)))];

  // ground
  const ground = cfg.terrain.concat([[cfg.maxKm, cfg.baseElev], [0, cfg.baseElev]]);
  make(g, 'polygon', {points: ptsAttr(ground, xs, ys), fill: 'url(#' + cfg.rock + ')'}, 'ground-section');

  // aquifer + isoline bands
  const clipId = 'clip-' + cfg.gid;
  const defs = make(g, 'clipPath', {id: clipId}, 'aquifer-clip');
  make(defs, 'polygon', {points: ptsAttr(cfg.aquifer, xs, ys)}, 'aquifer-clip-shape');
  const field = make(g, 'g', {'clip-path': 'url(#' + clipId + ')'}, 'isoline-field');
  make(field, 'polygon', {points: ptsAttr(cfg.aquifer, xs, ys), fill: colorOf(cfg.backgroundValue)}, 'isoline-band-base');
  cfg.contours.forEach(c => {
    const band = make(field, 'path', {d: smoothPath(c[1], xs, ys), fill: colorOf(c[0])}, 'isoline-band');
    band.setAttribute('data-value', c[0]);
  });

  // sea and ground line
  if (cfg.sea) {
    make(g, 'polygon', {points: ptsAttr(cfg.sea, xs, ys), fill: '#1489e0', stroke: '#333', 'stroke-width': .7}, 'sea');
  }
  make(g, 'polyline', {points: ptsAttr(cfg.terrain, xs, ys), fill: 'none', stroke: '#1d1a1a', 'stroke-width': 1.2}, 'ground-surface-line');

  // axes
  const axisTop = ys(cfg.axisTopElev);
  const axisStyle = {stroke: '#333', 'stroke-width': 1.3, fill: 'none'};
  make(g, 'line', Object.assign({x1: xs(0), x2: xs(0), y1: axisTop, y2: ys(cfg.baseElev)}, axisStyle), 'y-axis-left');
  make(g, 'line', Object.assign({x1: xs(cfg.maxKm), x2: xs(cfg.maxKm), y1: axisTop, y2: ys(cfg.baseElev)}, axisStyle), 'y-axis-right');
  make(g, 'line', Object.assign({x1: xs(0), x2: xs(cfg.maxKm), y1: ys(cfg.baseElev), y2: ys(cfg.baseElev)}, axisStyle), 'x-axis');

  cfg.elevTicks.forEach(t => {
    make(g, 'line', Object.assign({x1: xs(0) - cfg.tickLen, x2: xs(0), y1: ys(t), y2: ys(t)}, axisStyle), 'y-tick');
    const lab = make(g, 'text', {x: cfg.yLabelX, y: ys(t) + cfg.yLabelDy, 'text-anchor': 'end', 'font-size': 15.5}, 'y-tick-label');
    lab.textContent = t;
  });
  cfg.kmTicks.forEach(t => {
    make(g, 'line', Object.assign({x1: xs(t), x2: xs(t), y1: ys(cfg.baseElev), y2: ys(cfg.baseElev) + 4}, axisStyle), 'x-tick');
    const last = t === 25 && cfg.kmTicks.length === 6;
    const lab = make(g, 'text', {x: xs(t) + (last ? 0.7 : (t === 0 ? 1.5 : 1)), y: cfg.kmLabelY + (last ? 1 : 0), 'text-anchor': last ? 'end' : 'middle', style: 'font-family:"Liberation Sans",sans-serif;font-weight:700;font-size:11.5px;fill:#333'}, 'x-tick-label');
    lab.textContent = t === 0 ? '0' : t + ' km';
  });

  // water table
  if (cfg.waterTable) {
    const w = cfg.waterTable;
    make(g, 'line', {x1: xs(w[0]), x2: xs(w[1]), y1: ys(w[2]), y2: ys(w[2]), stroke: '#63b8f5', 'stroke-width': 1.8, 'stroke-dasharray': '1.6 1.8'}, 'water-table-line');
    const tipX = xs(w[3]), tipY = ys(w[4]);
    make(g, 'polygon', {points: (tipX - 8) + ',' + (tipY - 8) + ' ' + (tipX + 8) + ',' + (tipY - 8) + ' ' + tipX + ',' + tipY, fill: '#63b8ea', stroke: '#333', 'stroke-width': 1}, 'water-table-marker');
  }

  // faults
  cfg.fault.forEach(seg => {
    make(g, 'polyline', {points: ptsAttr(seg, xs, ys), fill: 'none', stroke: '#fff', 'stroke-width': 2.3, 'stroke-linecap': 'round', 'stroke-linejoin': 'round'}, 'fault-segment');
  });

  // gallery lines
  cfg.stations.forEach(s => {
    if (s[2] !== null) {
      make(g, 'line', {x1: xs(s[2]), x2: xs(s[0]), y1: ys(s[1]), y2: ys(s[1]), stroke: '#2b2626', 'stroke-width': 1.5}, 'gallery-line');
    }
  });
  cfg.wells.forEach(s => {
    make(g, 'line', {x1: xs(s[0]), x2: xs(s[0]), y1: ys(s[2]), y2: ys(s[1]), stroke: '#2b2626', 'stroke-width': 1.4}, 'borehole-line');
  });
  cfg.stations.concat(cfg.wells).forEach(s => {
    make(g, 'circle', {cx: xs(s[0]), cy: ys(s[1]), r: 4.3, fill: '#e8781e', stroke: '#231f20', 'stroke-width': 1.3}, 'sample-point');
  });

  // crossing-section marker
  make(g, 'line', {x1: cfg.cross.x, x2: cfg.cross.x, y1: cfg.cross.y1, y2: cfg.cross.y2, stroke: '#d0262a', 'stroke-width': 2.4}, 'crossing-section-marker');

  // legend
  const lg = make(g, 'g', {}, 'colour-scale');
  cfg.palette.forEach((col, i) => {
    const v = cfg.legend.min + i * cfg.legend.step;
    make(lg, 'rect', {x: cfg.legend.x, width: cfg.legend.w, y: legendY(v + cfg.legend.step), height: bandH + .3, fill: col}, 'colour-scale-band');
  });
  make(lg, 'rect', {x: cfg.legend.x, width: cfg.legend.w, y: cfg.legend.top, height: cfg.legend.bottom - cfg.legend.top, fill: 'none', stroke: '#8aa0b4', 'stroke-width': .8}, 'colour-scale-outline');
  cfg.legend.ticks.forEach(t => {
    const lab = make(lg, 'text', {x: cfg.legend.labelX, y: legendY(t) + 4, style: 'font-family:"Liberation Sans",sans-serif;font-weight:400;font-size:' + cfg.legend.font + 'px;fill:#333'}, 'colour-scale-label');
    lab.textContent = t;
  });
}

drawPanel({gid:'marks-a1', rock:'rockA1', x0:86, kx:25.867, yRef:303.33, elevRef:500, ky:.0868, maxKm:33, baseElev:-375, axisTopElev:3000, tickLen:7, yLabelX:72, yLabelDy:4, kmLabelY:396,
  terrain:terrainA, sea:seaA, aquifer:aquiferA1, contours:contoursA1, backgroundValue:backgroundValueA1, elevTicks:elevTicksA, kmTicks:kmTicksA, stations:stationsA1, wells:wellsA1, fault:faultA, waterTable:waterTableA1,
  cross:{x:470,y1:26.7,y2:54}, palette:paletteA1,
  legend:{x:959.7,w:19,top:67.3,bottom:370,min:4,step:2,ticks:legendTicksA1,labelX:981,font:10.5}});
drawPanel({gid:'marks-a2', rock:'rockA2', x0:86, kx:25.867, yRef:685.33, elevRef:500, ky:.0868, maxKm:33, baseElev:-375, axisTopElev:3000, tickLen:7, yLabelX:72, yLabelDy:4, kmLabelY:777.7,
  terrain:terrainA, sea:seaA, aquifer:aquiferA2, contours:contoursA2, backgroundValue:backgroundValueA2, elevTicks:elevTicksA, kmTicks:kmTicksA, stations:stationsA2, wells:wellsA2, fault:faultA, waterTable:waterTableA2,
  cross:{x:470,y1:411,y2:438}, palette:paletteA2,
  legend:{x:951,w:21,top:445.3,bottom:762,min:100,step:100,ticks:legendTicksA2,labelX:974.3,font:11}});
drawPanel({gid:'marks-b1', rock:'rockB1', x0:76.67, kx:33.7, yRef:1140, elevRef:1000, ky:.11635, maxKm:25.24, baseElev:995, axisTopElev:3234, tickLen:5, yLabelX:71.5, yLabelDy:5, kmLabelY:1157,
  terrain:terrainB, sea:null, aquifer:aquiferB1, contours:contoursB1, backgroundValue:backgroundValueB1, elevTicks:elevTicksB, kmTicks:kmTicksB, stations:stationsB1, wells:wellsB1, fault:faultB, waterTable:null,
  cross:{x:442.7,y1:836.7,y2:859}, palette:paletteB1,
  legend:{x:952,w:20.7,top:827.7,bottom:1155,min:0,step:5,ticks:legendTicksB1,labelX:975.3,font:11}});
drawPanel({gid:'marks-b2', rock:'rockB2', x0:76.67, kx:33.7, yRef:1519.33, elevRef:1000, ky:.11635, maxKm:25.24, baseElev:995, axisTopElev:3234, tickLen:5, yLabelX:71.5, yLabelDy:5, kmLabelY:1536,
  terrain:terrainB, sea:null, aquifer:aquiferB2, contours:contoursB2, backgroundValue:backgroundValueB2, elevTicks:elevTicksB, kmTicks:kmTicksB, stations:stationsB2, wells:wellsB2, fault:faultB, waterTable:null,
  cross:{x:442.7,y1:1216.7,y2:1239}, palette:paletteB2,
  legend:{x:945.7,w:21,top:1196,bottom:1521,min:100,step:100,ticks:legendTicksB2,labelX:969.3,font:11}});
</script>
</body>
</html>
